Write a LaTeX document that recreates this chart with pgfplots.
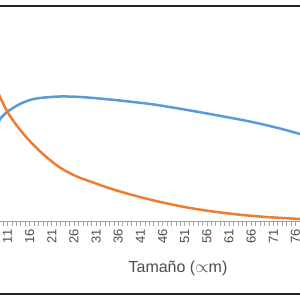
\documentclass[border=0pt]{standalone}
\usepackage{pgfplots}
\pgfplotsset{compat=1.18}
\usepackage{fontspec}
\setmainfont{Liberation Sans}
\definecolor{eblue}{HTML}{5B9BD5}
\definecolor{eorange}{HTML}{ED7D31}
\definecolor{txt}{HTML}{4D4D4D}
\definecolor{frame}{HTML}{262626}
\begin{document}
\begin{tikzpicture}
\useasboundingbox (0,0) rectangle (300pt,300pt);
\fill[white] (0,0) rectangle (300pt,300pt);
\begin{axis}[at={(0pt,78pt)}, anchor=south west, scale only axis,
  width=300pt, height=217pt,
  xmin=9.307, xmax=77.03, ymin=0, ymax=217,
  axis x line*=bottom, axis y line=none,
  axis line style={-, gray!75, line width=1pt},
  xtick={11,16,...,76}, minor xtick={9,...,77},
  tick align=outside, major tick length=4pt, minor tick length=4pt,
  tick style={gray!70, line width=0.6pt},
  /pgf/number format/assume math mode=true,
  xticklabel style={rotate=90, anchor=east, font=\fontsize{13}{13}\selectfont, text=txt},
  ytick=\empty,
]
\addplot[eblue, line width=2.5pt, smooth] coordinates {
(8.9,98) (9.3,103) (10.9,110) (12.24,114) (13.8,118) (16.08,122) (18.3,124)
(22.85,125.5) (27.4,125) (34.1,122.5) (43.2,118) (50,113.2) (56.7,108)
(65.7,100.5) (72.5,93.5) (77,88) (77.5,87.4)};
\addplot[eorange, line width=2.5pt, smooth] coordinates {
(8.8,130) (9.3,125) (11,110) (13,97) (15,86) (17,76.5) (19,68) (21,60.5)
(23,54) (25,49) (27,44.8) (30,40) (33,35.3) (36,31) (40,26) (45,20.5)
(50,15.8) (55,12) (60,9) (65,6.6) (70,4.8) (77,3) (77.5,2.9)};
\end{axis}
\node[text=txt, font=\fontsize{16}{16}\selectfont] at (178pt,32pt) {Tamaño ($\propto$m)};
\draw[line width=2pt, frame] (0,294pt) -- (300pt,294pt);
\draw[line width=2pt, frame] (0,6pt) -- (300pt,6pt);
\end{tikzpicture}
\end{document}
